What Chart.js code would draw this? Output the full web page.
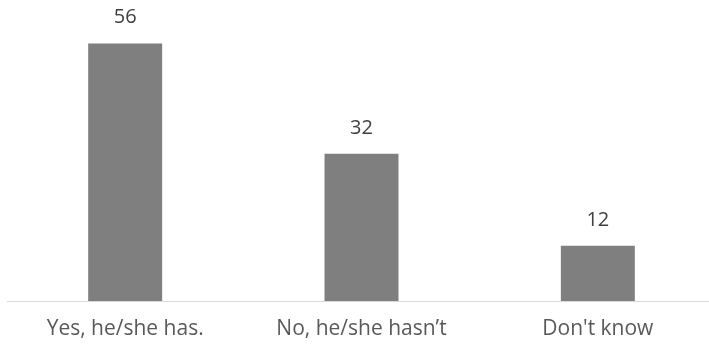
<!DOCTYPE html>
<html>
<head>
<meta charset="utf-8">
<script src="https://cdn.jsdelivr.net/npm/chart.js@4"></script>
<style>
html,body{margin:0;padding:0;overflow:hidden;background:#fff;}
</style>
</head>
<body>
<canvas id="c" width="720" height="347"></canvas>
<script>
const categories = ["Yes, he/she has.", "No, he/she hasn\u2019t", "Don't know"];
const values = [56, 32, 12];

const labelPlugin = {
  id: 'valueLabels',
  afterDatasetsDraw(chart) {
    const ctx = chart.ctx;
    const meta = chart.getDatasetMeta(0);
    ctx.save();
    ctx.font = '20px "Open Sans", sans-serif';
    ctx.fillStyle = '#404040';
    ctx.textAlign = 'center';
    ctx.textBaseline = 'middle';
    meta.data.forEach((bar, i) => {
      ctx.fillText(String(values[i]), bar.x, bar.y - 26);
    });
    ctx.restore();
  }
};

new Chart(document.getElementById('c'), {
  type: 'bar',
  data: {
    labels: categories,
    datasets: [{
      data: values,
      backgroundColor: '#7f7f7f',
      borderWidth: 0,
      barPercentage: 1,
      categoryPercentage: 0.313
    }]
  },
  options: {
    responsive: false,
    animation: false,
    layout: { padding: { left: 7, right: 4, top: 25, bottom: 0 } },
    plugins: { legend: { display: false }, tooltip: { enabled: false } },
    scales: {
      x: {
        grid: { color: 'transparent', drawTicks: false },
        border: { display: true, color: '#d9d9d9', width: 1 },
        ticks: { color: '#595959', font: { family: '"Open Sans", sans-serif', size: 21 }, padding: 15, maxRotation: 0 },
        afterFit(scale) { scale.height = 46; }
      },
      y: {
        display: false,
        min: 0,
        max: 60
      }
    }
  },
  plugins: [labelPlugin]
});
</script>
</body>
</html>
